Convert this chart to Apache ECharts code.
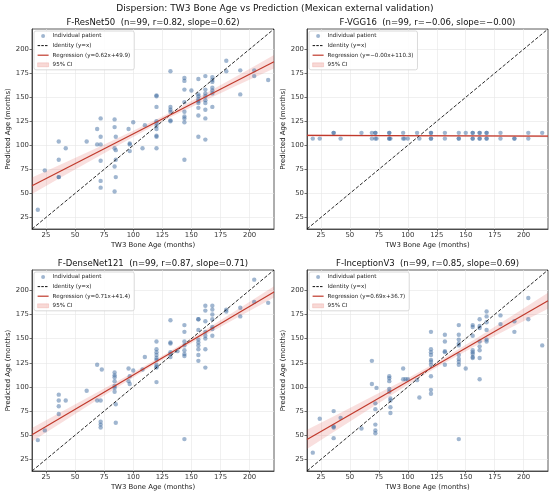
<!DOCTYPE html>
<html>
<head>
<meta charset="utf-8">
<script src="https://cdn.jsdelivr.net/npm/echarts@6/dist/echarts.min.js"></script>
<style>
  html, body { margin: 0; padding: 0; background: #fff; }
  #chart { width: 550px; height: 495px; }
</style>
</head>
<body>
<div id="chart"></div>
<script>
// axis limits and ticks (same on both axes of every panel)
var axisMin = 13, axisMax = 221;
var tickValues = [25, 50, 75, 100, 125, 150, 175, 200];

var titles = [
  'F-ResNet50  (n=99, r=0.82, slope=0.62)',
  'F-VGG16  (n=99, r=\u22120.06, slope=\u22120.00)',
  'F-DenseNet121  (n=99, r=0.87, slope=0.71)',
  'F-InceptionV3  (n=99, r=0.85, slope=0.69)'
];
var regNames = [
  'Regression (y=0.62x+49.9)',
  'Regression (y=\u22120.00x+110.3)',
  'Regression (y=0.71x+41.4)',
  'Regression (y=0.69x+36.7)'
];

// [TW3 bone age, predicted age]
var resnetPts = [[18,33],[24,74],[36,104],[36,85],[36,67],[36,67],[42,97],[60,104],[69,117],[69,101],
  [72,128],[72,109],[72,101],[72,84],[72,63],[72,56],[84,127],[84,119],[85,109],[84,97],[85,95],[85,85],
  [84,78],[85,67],[84,52],[96,117],[97,102],[97,101],[97,94],[100,124],[108,97],[110,121],[120,152],
  [120,151],[120,140],[120,125],[120,123],[120,120],[120,117],[120,110],[120,109],[120,97],[132,177],
  [132,140],[132,137],[132,135],[132,126],[132,125],[144,170],[144,167],[144,158],[144,145],[144,135],
  [144,130],[144,128],[144,124],[144,85],[150,157],[156,169],[156,153],[156,151],[156,148],[156,146],
  [156,144],[156,139],[156,131],[156,109],[162,172],[162,158],[162,154],[162,151],[162,147],[162,144],
  [162,137],[162,128],[162,106],[168,171],[168,168],[168,166],[168,160],[168,157],[168,154],[168,140],
  [180,188],[180,177],[192,178],[192,153],[204,178],[204,172],[216,168]];

var vggPts = [[18,107],[24,107],[36,113],[36,113],[42,107],[60,113],[69,113],[69,107],[72,113],[72,113],
  [72,107],[73,107],[84,113],[84,113],[84,107],[84,107],[85,107],[96,113],[96,107],[97,107],[100,107],
  [108,113],[110,107],[120,113],[120,113],[120,107],[120,107],[132,113],[132,107],[144,113],[144,107],
  [144,107],[150,113],[156,113],[156,113],[156,107],[156,107],[162,113],[162,113],[162,107],[162,107],
  [168,113],[168,113],[168,107],[168,107],[180,113],[180,107],[192,107],[192,107],[204,113],[204,107],
  [216,113]];

var densePts = [[18,45],[24,55],[36,92],[36,86],[36,80],[36,72],[42,86],[60,96],[69,123],[69,86],
  [72,86],[72,64],[72,61],[72,58],[73,118],[84,115],[84,112],[84,110],[84,106],[84,101],[84,99],[84,95],
  [85,82],[85,63],[96,119],[96,106],[97,103],[97,111],[100,117],[108,118],[110,131],[120,147],[120,139],
  [120,136],[120,133],[120,130],[120,128],[120,123],[120,121],[120,120],[120,105],[132,169],[132,146],
  [132,145],[132,136],[132,134],[132,131],[138,137],[144,164],[144,157],[144,147],[144,143],[144,138],
  [144,134],[144,132],[144,46],[156,170],[156,170],[156,159],[156,149],[156,146],[156,143],[156,139],
  [156,133],[156,127],[162,184],[162,179],[162,168],[162,157],[162,153],[162,150],[162,139],[162,120],
  [168,184],[168,180],[168,175],[168,170],[168,162],[168,160],[168,153],[180,178],[180,180],[192,182],
  [192,173],[204,211],[204,188],[216,187]];

var inceptionPts = [[18,32],[24,67],[36,75],[36,59],[36,58],[36,47],[42,68],[60,57],[69,127],[69,103],
  [72,83],[72,77],[72,61],[72,55],[72,52],[73,99],[84,111],[84,109],[84,106],[84,98],[84,95],[85,88],
  [85,86],[85,79],[85,73],[96,119],[96,108],[98,108],[100,108],[108,107],[110,89],[120,157],[120,139],
  [120,136],[120,133],[120,128],[120,126],[120,123],[120,111],[120,97],[120,93],[132,154],[132,147],
  [132,137],[132,136],[132,123],[144,164],[144,154],[144,149],[144,145],[144,143],[144,133],[144,129],
  [144,126],[144,123],[144,46],[150,119],[156,164],[156,162],[156,153],[156,138],[156,136],[156,134],
  [156,131],[156,130],[162,170],[162,163],[162,161],[162,147],[162,142],[162,138],[162,130],[162,108],
  [168,178],[168,173],[168,167],[168,159],[168,149],[168,147],[180,174],[180,165],[192,168],[192,157],
  [204,192],[204,170],[216,143]];

var identity = [[13, 13], [221, 221]];

// regression line end points
var resnetReg = [[13, 58.0], [221, 186.9]];
var vggReg = [[13, 110.3], [221, 109.5]];
var denseReg = [[13, 50.6], [221, 198.3]];
var inceptionReg = [[13, 45.7], [221, 189.2]];

// 95% CI band, read at these x positions
var bandX = [13, 40, 70, 100, 128, 160, 190, 221];
var resnetLo = [49.5, 68.0, 88.5, 108.7, 126.8, 145.7, 162.7, 179.9];
var resnetHi = [66.5, 81.4, 98.1, 115.1, 131.8, 152.5, 172.7, 193.9];
var vggLo = [108.9, 109.1, 109.2, 109.3, 109.2, 109.1, 108.8, 108.4];
var vggHi = [111.6, 111.2, 110.8, 110.5, 110.4, 110.3, 110.4, 110.6];
var denseLo = [43.6, 64.3, 87.2, 109.8, 130.3, 152.3, 172.2, 192.5];
var denseHi = [57.6, 75.3, 95.0, 115.0, 134.3, 157.7, 180.4, 204.1];
var inceptionLo = [35.7, 56.5, 79.5, 102.3, 122.5, 143.4, 162.0, 181.0];
var inceptionHi = [55.7, 72.1, 90.5, 109.1, 127.5, 150.8, 173.6, 197.4];

var panels = [
  { pts: resnetPts, reg: resnetReg, lo: resnetLo, hi: resnetHi },
  { pts: vggPts, reg: vggReg, lo: vggLo, hi: vggHi },
  { pts: densePts, reg: denseReg, lo: denseLo, hi: denseHi },
  { pts: inceptionPts, reg: inceptionReg, lo: inceptionLo, hi: inceptionHi }
];

var boxes = [
  { left: 32, top: 29, width: 242, height: 200 },
  { left: 307, top: 29, width: 241, height: 200 },
  { left: 32, top: 270, width: 242, height: 201 },
  { left: 307, top: 270, width: 241, height: 201 }
];

var font = 'DejaVu Sans';
var dotColor = 'rgba(62,108,160,0.62)';
var regColor = '#c0392b';
var ciFill = 'rgba(222,80,70,0.18)';
var hidden = { color: 'rgba(0,0,0,0)', opacity: 0, borderWidth: 0 };

var grids = [], xAxes = [], yAxes = [], series = [], legends = [], graphics = [];

graphics.push({
  type: 'text', x: 275, y: 8.5,
  style: { text: 'Dispersion: TW3 Bone Age vs Prediction (Mexican external validation)',
    font: '9.1px ' + font, fill: '#111', textAlign: 'center', textVerticalAlign: 'middle' }
});

function axisCfg(i, name, isY) {
  return {
    gridIndex: i, type: 'value', min: axisMin, max: axisMax,
    name: name, nameLocation: 'middle', nameGap: isY ? 20 : 13,
    nameTextStyle: { fontSize: 6.9, color: '#222', fontFamily: font },
    axisLine: { show: true, onZero: false, lineStyle: { color: '#333', width: 0.8 } },
    axisTick: { show: true, length: 2.5, customValues: tickValues, lineStyle: { color: '#333', width: 0.7 } },
    axisLabel: { fontSize: 6.9, color: '#333', margin: 3, fontFamily: font, customValues: tickValues },
    splitLine: { show: true, lineStyle: { color: '#e6e6e6', width: 0.6 } }
  };
}

panels.forEach(function (p, i) {
  var b = boxes[i];
  grids.push({ left: b.left, top: b.top, width: b.width, height: b.height,
    show: true, borderColor: '#333', borderWidth: 0.8, backgroundColor: '#fff' });
  xAxes.push(axisCfg(i, 'TW3 Bone Age (months)', false));
  yAxes.push(axisCfg(i, 'Predicted Age (months)', true));

  graphics.push({
    type: 'text', x: b.left + b.width / 2, y: b.top - 6.5,
    style: { text: titles[i], font: '8.5px ' + font, fill: '#111', textAlign: 'center', textVerticalAlign: 'middle' }
  });

  series.push({
    type: 'custom', name: '95% CI', xAxisIndex: i, yAxisIndex: i, z: 1,
    silent: true, clip: true, data: [[axisMin, axisMin]],
    itemStyle: { color: ciFill },
    renderItem: function (params, api) {
      var pts = [];
      for (var k = 0; k < bandX.length; k++) pts.push(api.coord([bandX[k], p.hi[k]]));
      for (var m = bandX.length - 1; m >= 0; m--) pts.push(api.coord([bandX[m], p.lo[m]]));
      return { type: 'polygon', shape: { points: pts }, style: { fill: ciFill } };
    }
  });
  series.push({
    type: 'scatter', name: 'Individual patient', xAxisIndex: i, yAxisIndex: i, z: 3,
    data: p.pts, symbolSize: 4.4, itemStyle: { color: dotColor }
  });
  series.push({
    type: 'line', name: 'Identity (y=x)', xAxisIndex: i, yAxisIndex: i, z: 4,
    data: identity, symbol: 'none', silent: true,
    itemStyle: { color: '#111' },
    lineStyle: { color: '#111', width: 0.9, type: [3.5, 1.8] }
  });
  series.push({
    type: 'line', name: regNames[i], xAxisIndex: i, yAxisIndex: i, z: 5,
    data: p.reg, symbol: 'none', silent: true,
    itemStyle: { color: regColor },
    lineStyle: { color: regColor, width: 1.2 }
  });

  legends.push({
    left: b.left + 2, top: b.top + 2, orient: 'vertical',
    itemWidth: 11, itemHeight: 4, itemGap: 3.6,
    padding: [2, 4, 2, 3], selectedMode: false,
    backgroundColor: 'rgba(255,255,255,0.85)', borderColor: '#d0d0d0', borderWidth: 0.8, borderRadius: 2,
    textStyle: { fontSize: 5.6, color: '#222', fontFamily: font, padding: [0, 0, 0, -1] },
    data: [
      { name: 'Individual patient', icon: 'circle' },
      { name: 'Identity (y=x)', itemStyle: hidden, lineStyle: { color: '#111', width: 1, type: [2.5, 1.2] } },
      { name: regNames[i], itemStyle: hidden, lineStyle: { color: regColor, width: 1.2 } },
      { name: '95% CI', icon: 'rect', itemStyle: { color: 'rgba(222,80,70,0.22)', borderColor: 'rgba(222,80,70,0.35)', borderWidth: 0.5 } }
    ]
  });
});

var chart = echarts.init(document.getElementById('chart'));
chart.setOption({
  animation: false,
  backgroundColor: '#fff',
  textStyle: { fontFamily: font },
  grid: grids,
  xAxis: xAxes,
  yAxis: yAxes,
  legend: legends,
  graphic: graphics,
  series: series
});
</script>
</body>
</html>
